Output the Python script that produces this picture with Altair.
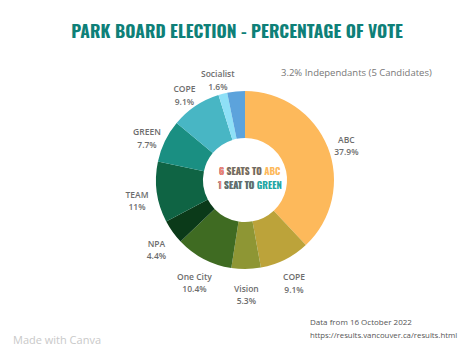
import altair as alt
import pandas as pd

# ---- data ----
parties = ["ABC", "COPE", "Vision", "One City", "NPA", "TEAM", "GREEN", "COPE", "Socialist", "Independants"]
shares = [37.9, 9.1, 5.3, 10.4, 4.4, 11.0, 7.7, 9.1, 1.6, 3.2]
share_text = ["37.9%", "9.1%", "5.3%", "10.4%", "4.4%", "11%", "7.7%", "9.1%", "1.6%", ""]
colors = ["#FDB95B", "#BCA33A", "#8E9634", "#3F6B22", "#0B3A19",
          "#0F6444", "#1A8F82", "#48B6C4", "#8EE0F7", "#5CA3DC"]
indep_note = "3.2% Independants (5 Candidates)"
center_line1 = ["6", " SEATS TO", " ABC"]
center_line2 = ["1", " SEAT TO", " GREEN"]
source_lines = ["Data from 16 October 2022", "https://results.vancouver.ca/results.html"]
title_text = "PARK BOARD ELECTION - PERCENTAGE OF VOTE"

keys = [f"{i:02d} {p}" for i, p in enumerate(parties)]
labels = [f"{p}\n{s}" if s else "" for p, s in zip(parties, share_text)]
df = pd.DataFrame({"key": keys, "party": parties, "share": shares,
                   "label": labels, "idx": list(range(len(parties)))})

W, H = 442, 240
NARROW = "Oswald, Roboto Condensed, sans-serif"
LABEL_FONT = "Open Sans, Lato, sans-serif"

base = alt.Chart(df).encode(
    theta=alt.Theta("share:Q", stack=True),
    order=alt.Order("idx:Q", sort="ascending"),
)

ring = base.mark_arc(outerRadius=89, innerRadius=42).encode(
    color=alt.Color("key:N", scale=alt.Scale(domain=keys, range=colors), legend=None)
)

ring_labels = base.mark_text(
    radius=109, lineBreak="\n", font=LABEL_FONT, fontSize=8.5, fontWeight=600,
    color="#6d6d6d", align="center", baseline="middle", lineHeight=12.5
).encode(text="label:N")


def txt(s, x, y, **kw):
    return alt.Chart(pd.DataFrame({"t": [s]})).mark_text(**kw).encode(
        x=alt.value(x), y=alt.value(y), text="t:N")


cx = W / 2
c_kw = dict(font=NARROW, fontSize=9.5, fontWeight="bold", align="left", baseline="middle")
l1x, l1y = cx - 26, 112
l2x, l2y = cx - 27, 126
center = [
    txt("".join(center_line1), l1x, l1y, color="#FDB95B", **c_kw),
    txt("".join(center_line1[:2]), l1x, l1y, color="#6b6b6b", **c_kw),
    txt(center_line1[0], l1x, l1y, color="#F2837D", **c_kw),
    txt("".join(center_line2), l2x, l2y, color="#22A5A3", **c_kw),
    txt("".join(center_line2[:2]), l2x, l2y, color="#6b6b6b", **c_kw),
    txt(center_line2[0], l2x, l2y, color="#F2837D", **c_kw),
]

notes = [
    txt(indep_note, 257, 13, font=LABEL_FONT, fontSize=9.5, color="#777777",
        align="left", baseline="middle"),
    txt(source_lines[0], 286, 263, font=LABEL_FONT, fontSize=8, color="#555555",
        align="left", baseline="middle"),
    txt(source_lines[1], 286, 276, font=LABEL_FONT, fontSize=7.8, color="#555555",
        align="left", baseline="middle"),
    txt("Made with Canva", -11, 281, font=LABEL_FONT, fontSize=11, color="#c9c9c9",
        align="left", baseline="middle"),
]

chart = alt.layer(ring, ring_labels, *center, *notes).properties(
    width=W, height=H,
    autosize=alt.AutoSizeParams(type="none"),
    padding={"left": 16, "right": 0, "top": 52, "bottom": 47},
    title=alt.Title(title_text, color="#0E8078", font=NARROW, fontSize=17.5,
                    fontWeight="bold", anchor="middle", frame="group", dx=-8, offset=19),
).configure_view(strokeWidth=0)

chart.save("out.html", embed_options={"renderer": "svg", "actions": False})
